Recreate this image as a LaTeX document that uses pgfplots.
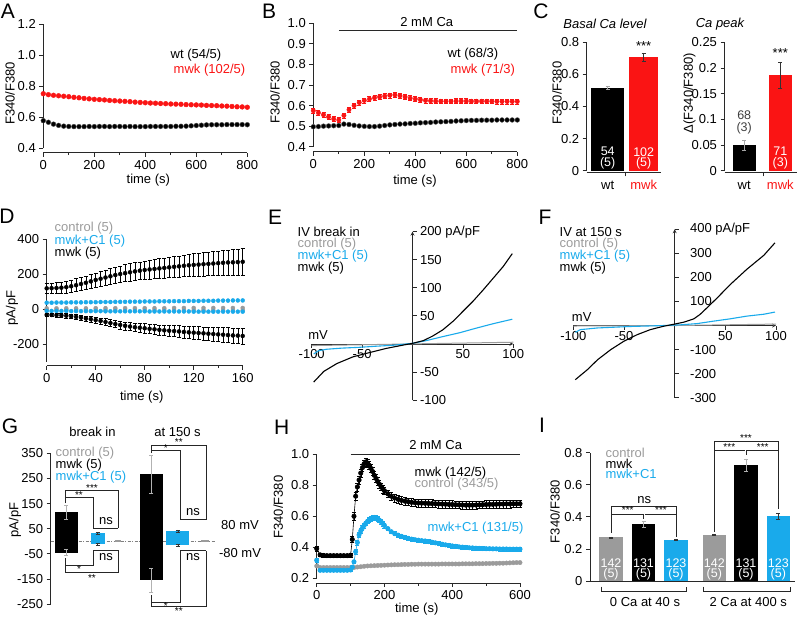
\documentclass[border=0pt]{standalone}
\usepackage{fontspec}
\setmainfont{Liberation Sans}
\usepackage{pgfplots}
\pgfplotsset{compat=1.18}
\definecolor{cblue}{RGB}{25,170,235}
\definecolor{cred}{RGB}{250,20,20}
\definecolor{cgray}{RGB}{155,155,155}
\definecolor{axc}{RGB}{40,40,40}
\newcommand\fs{\fontsize{13}{15}\selectfont}
\newcommand\fsb{\fontsize{12.5}{13}\selectfont}
\newcommand\fss{\fontsize{10}{12}\selectfont}
\newcommand\fsl{\fontsize{21}{24}\selectfont}
\pgfplotsset{
 base/.style={scale only axis, clip=false, anchor=south west,
   axis line style={line width=0.75pt, draw=axc},
   every inner x axis line/.append style={-},
   every inner y axis line/.append style={-},
   every outer x axis line/.append style={-},
   every outer y axis line/.append style={-},
   tick style={line width=0.75pt, axc},
   tick align=outside, major tick length=4pt, minor tick length=2.5pt,
   tick label style={font=\fs, text=black},
   /pgf/number format/assume math mode=true},
 igor/.style={base, axis x line*=bottom, axis y line*=left},
 ebar/.style={error bars/.cd, y dir=both, y explicit,
   error bar style={line width=0.5pt, #1},
   error mark options={rotate=90, mark size=2pt, line width=0.5pt, #1}},
}
\begin{document}
\begin{tikzpicture}[font=\fs]
\useasboundingbox (0pt,0pt) rectangle (800pt,-616pt);
% ---------------- A
\begin{axis}[igor, at={(43.3pt,-148.3pt)}, width=204pt, height=124pt,
 xmin=0,xmax=800,ymin=0.4,ymax=1.2,
 xtick={0,200,400,600,800}, xticklabels={0,200,400,600,800},
 minor xtick={100,300,500,700},
 ytick={0.4,0.6,0.8,1.0,1.2}, yticklabels={0.4,0.6,0.8,1.0,1.2},
 axis x line shift=4.4pt]
\addplot[only marks, mark=*, mark size=2.4pt, mark options={draw=black!70, fill=black, line width=0.4pt}] table {
0 0.578
20 0.568
40 0.556
60 0.548
80 0.543
100 0.541
120 0.540
140 0.540
160 0.540
180 0.541
200 0.540
220 0.541
240 0.541
260 0.540
280 0.541
300 0.541
320 0.540
340 0.541
360 0.540
380 0.540
400 0.540
420 0.541
440 0.541
460 0.541
480 0.541
500 0.541
520 0.542
540 0.542
560 0.543
580 0.545
600 0.547
620 0.549
640 0.551
660 0.552
680 0.552
700 0.552
720 0.553
740 0.553
760 0.553
780 0.553
800 0.552
};
\addplot[only marks, mark=*, mark size=2.4pt, mark options={draw=cred, fill=cred, line width=0.4pt}] table {
0 0.752
20 0.746
40 0.742
60 0.739
80 0.736
100 0.733
120 0.729
140 0.726
160 0.722
180 0.719
200 0.716
220 0.714
240 0.712
260 0.709
280 0.707
300 0.705
320 0.703
340 0.701
360 0.698
380 0.696
400 0.694
420 0.692
440 0.691
460 0.689
480 0.688
500 0.686
520 0.685
540 0.684
560 0.682
580 0.681
600 0.680
620 0.679
640 0.677
660 0.676
680 0.675
700 0.673
720 0.672
740 0.670
760 0.668
780 0.667
800 0.665
};
\end{axis}
% ---------------- B
\begin{axis}[igor, at={(313.3pt,-146.7pt)}, width=204pt, height=123.4pt,
 xmin=0,xmax=800,ymin=0.4,ymax=1.0,
 xtick={0,200,400,600,800}, xticklabels={0,200,400,600,800},
 minor xtick={100,300,500,700},
 ytick={0.4,0.5,0.6,0.7,0.8,0.9,1.0}, yticklabels={0.4,0.5,0.6,0.7,0.8,0.9,1.0},
 axis x line shift=5pt]
\draw[axc, line width=0.75pt] (axis cs:100,0.964) -- (axis cs:800,0.964);
\node[above=1pt] at (axis cs:445,0.964) {2 mM Ca};
\addplot[only marks, mark=*, mark size=2.4pt, mark options={draw=black!65, fill=black, line width=0.4pt}] table {
0 0.497
20 0.498
40 0.500
60 0.501
80 0.502
100 0.503
120 0.510
140 0.508
160 0.504
180 0.501
200 0.499
220 0.498
240 0.498
260 0.500
280 0.503
300 0.506
320 0.508
340 0.510
360 0.511
380 0.513
400 0.514
420 0.516
440 0.517
460 0.518
480 0.520
500 0.521
520 0.522
540 0.523
560 0.525
580 0.526
600 0.527
620 0.528
640 0.528
660 0.529
680 0.529
700 0.529
720 0.530
740 0.530
760 0.530
780 0.530
800 0.530
};
\addplot[only marks, mark=*, mark size=2.2pt, mark options={draw=cred, fill=cred}, ebar=cred] table[x=t,y=y,y error=e] {
t y e
0 0.575 0.012
20 0.565 0.012
40 0.555 0.012
60 0.545 0.012
80 0.535 0.012
100 0.530 0.012
120 0.552 0.012
140 0.580 0.012
160 0.600 0.012
180 0.615 0.012
200 0.625 0.012
220 0.632 0.012
240 0.638 0.012
260 0.642 0.012
280 0.646 0.012
300 0.650 0.012
320 0.652 0.012
340 0.648 0.012
360 0.642 0.012
380 0.636 0.012
400 0.632 0.012
420 0.628 0.012
440 0.625 0.012
460 0.623 0.012
480 0.622 0.012
500 0.621 0.012
520 0.621 0.012
540 0.621 0.012
560 0.622 0.012
580 0.622 0.012
600 0.622 0.012
620 0.621 0.012
640 0.621 0.012
660 0.621 0.012
680 0.621 0.012
700 0.621 0.012
720 0.620 0.012
740 0.620 0.012
760 0.620 0.012
780 0.620 0.012
800 0.620 0.012
};
\end{axis}
% ---------------- C left
\begin{axis}[igor, at={(586.7pt,-170.7pt)}, width=74.3pt, height=128.4pt,
 xmin=0,xmax=74.3,ymin=0,ymax=0.8,
 xtick={38.5}, xticklabels={},
 ytick={0,0.2,0.4,0.6,0.8}, yticklabels={0,0.2,0.4,0.6,0.8},
 axis x line shift=1.6pt]
\addplot[ybar, bar width=33, bar shift=0pt, fill=black, draw=none, ebar=gray!70] coordinates {(21,0.515) +- (0,0.01)};
\addplot[ybar, bar width=29, bar shift=0pt, fill=cred, draw=none, ebar=black!80] coordinates {(57,0.707) +- (0,0.025)};
\end{axis}
% ---------------- C right
\begin{axis}[igor, at={(724.5pt,-170.7pt)}, width=72.5pt, height=128.4pt,
 xmin=0,xmax=72.5,ymin=0,ymax=0.25,
 xtick={38.8}, xticklabels={},
 ytick={0,0.05,0.1,0.15,0.2,0.25}, yticklabels={0,0.05,0.1,0.15,0.2,0.25},
 axis x line shift=1.6pt]
\addplot[ybar, bar width=23, bar shift=0pt, fill=black, draw=none, ebar=gray!70] coordinates {(19.7,0.050) +- (0,0.01)};
\addplot[ybar, bar width=22.7, bar shift=0pt, fill=cred, draw=none, ebar=black!80] coordinates {(55.8,0.186) +- (0,0.026)};
\end{axis}
% ---------------- D
\begin{axis}[igor, at={(46.7pt,-361.5pt)}, width=196pt, height=122.5pt,
 xmin=0,xmax=160,ymin=-300,ymax=400,
 xtick={0,40,80,120,160}, xticklabels={0,40,80,120,160},
 minor xtick={20,60,100,140},
 ytick={-200,0,200,400}, yticklabels={-200,0,200,400},
 axis x line shift=4pt]
\addplot[only marks, mark=*, mark size=2pt, mark options={draw=cgray, fill=cgray}] table {
0 4
8 4
16 4
24 4
32 4
40 5
48 5
56 5
64 5
72 5
80 5
88 5
96 5
104 6
112 6
120 6
128 6
136 6
144 6
152 6
160 6
};
\addplot[only marks, mark=*, mark size=2pt, mark options={draw=cgray, fill=cgray}] table {
0 -5
8 -5
16 -5
24 -5
32 -5
40 -6
48 -6
56 -6
64 -6
72 -6
80 -6
88 -6
96 -6
104 -7
112 -7
120 -7
128 -7
136 -7
144 -7
152 -7
160 -7
};
\addplot[only marks, mark=*, mark size=2pt, mark options={draw=cblue, fill=cblue}] table {
0 36
4 36
8 37
12 37
16 37
20 38
24 38
28 38
32 39
36 39
40 39
44 40
48 40
52 40
56 41
60 41
64 41
68 42
72 42
76 42
80 43
84 43
88 43
92 44
96 44
100 44
104 45
108 45
112 45
116 46
120 46
124 46
128 47
132 47
136 47
140 48
144 48
148 48
152 49
156 49
160 49
};
\addplot[only marks, mark=*, mark size=2pt, mark options={draw=cblue, fill=cblue}] table {
0 -11
4 -11
8 -11
12 -11
16 -11
20 -12
24 -12
28 -12
32 -12
36 -12
40 -12
44 -12
48 -13
52 -13
56 -13
60 -13
64 -13
68 -13
72 -13
76 -13
80 -13
84 -14
88 -14
92 -14
96 -14
100 -14
104 -14
108 -14
112 -14
116 -14
120 -15
124 -15
128 -15
132 -15
136 -15
140 -15
144 -15
148 -15
152 -15
156 -15
160 -15
};
\addplot[only marks, mark=*, mark size=2pt, mark options={draw=black, fill=black}, ebar=black] table[x=t,y=y,y error=e] {
t y e
0 118 30
4 119 31
8 120 32
12 122 33
16 125 34
20 130 36
24 136 37
28 143 38
32 150 39
36 158 40
40 166 41
44 173 42
48 180 43
52 187 45
56 194 46
60 200 47
64 205 48
68 210 49
72 215 50
76 219 51
80 223 52
84 226 54
88 229 55
92 232 56
96 235 57
100 238 58
104 241 59
108 244 60
112 247 61
116 250 62
120 252 64
124 254 65
128 256 66
132 258 67
136 260 68
140 262 69
144 264 70
148 266 71
152 267 72
156 268 74
160 270 75
};
\addplot[only marks, mark=*, mark size=2pt, mark options={draw=black, fill=black}, ebar=black] table[x=t,y=y,y error=e] {
t y e
0 -34 8
4 -34 9
8 -35 10
12 -36 11
16 -38 12
20 -41 13
24 -45 14
28 -49 14
32 -54 15
36 -58 16
40 -63 17
44 -68 18
48 -74 19
52 -80 20
56 -86 21
60 -91 22
64 -96 23
68 -100 24
72 -104 25
76 -107 25
80 -110 26
84 -113 27
88 -116 28
92 -119 29
96 -122 30
100 -124 31
104 -126 32
108 -128 33
112 -131 34
116 -133 35
120 -135 36
124 -137 36
128 -139 37
132 -141 38
136 -143 39
140 -145 40
144 -147 41
148 -149 42
152 -151 43
156 -152 44
160 -154 45
};
\end{axis}
% ---------------- E
\begin{axis}[base, at={(311.7pt,-400pt)}, width=201.6pt, height=168.3pt,
 axis x line=middle, axis y line=middle,
 xmin=-100,xmax=100,ymin=-100,ymax=200,
 tick align=center, xtick style={yshift=-2pt}, ytick style={xshift=2pt},
 xtick={-100,-50,50,100}, xticklabels={-100,-50,50,100},
 ytick={-100,-50,50,100,150,200}, yticklabels={-100,-50,50,100,150,200 pA/pF},
 yticklabel style={anchor=west, xshift=6pt}]
\addplot[cgray, line width=1pt] coordinates {(-100,-3) (-50,-1.5) (0,0) (50,1.5) (100,3)};
\addplot[cblue, line width=1.1pt] coordinates {(-98,-18) (-93,-12) (-85,-9.5) (-70,-7.5) (-52,-6) (-35,-4) (-19,-2.4) (0,1) (14,6) (30,13) (47,20) (63,28) (80,36) (99,44)};
\addplot[black, line width=1.1pt] coordinates {(-98,-68) (-88,-49) (-75,-35) (-59,-23) (-46,-17) (-26,-8) (-9,-2) (0,1) (11,6) (20,14) (30,25) (40,40) (50,58) (60,76) (70,96) (80,117) (90,138) (99,161)};
\end{axis}
% ---------------- F
\begin{axis}[base, at={(573.3pt,-397.7pt)}, width=202.7pt, height=168.4pt,
 axis x line=middle, axis y line=middle,
 xmin=-100,xmax=100,ymin=-300,ymax=400,
 tick align=center, xtick style={yshift=-2pt}, ytick style={xshift=2pt},
 xtick={-100,-50,50,100}, xticklabels={-100,-50,50,100},
 ytick={-300,-200,-100,100,200,300,400}, yticklabels={-300,-200,-100,100,200,300,400 pA/pF},
 yticklabel style={anchor=west, xshift=14pt}]
\addplot[cgray, line width=1pt] coordinates {(-100,-2) (-50,-1) (0,0) (50,3) (100,6)};
\addplot[cblue, line width=1.1pt] coordinates {(-98,-28) (-93,-17) (-76,-10) (-60,-7) (-44,-4) (-11,0) (6,3) (22,8) (38,18) (55,28) (71,39) (88,47) (99,56)};
\addplot[black, line width=1.1pt] coordinates {(-98,-225) (-86,-183) (-76,-142) (-63,-100) (-50,-65) (-37,-38) (-24,-17) (-11,-3) (0,6) (9,14) (19,28) (25,46) (32,74) (42,115) (55,171) (71,233) (88,292) (99,344)};
\end{axis}
% ---------------- G
\begin{axis}[base, axis x line=none, axis y line*=left, at={(50.7pt,-604pt)}, width=199.3pt, height=150.7pt,
 xmin=0,xmax=200,ymin=-250,ymax=350,
 ytick={-250,-150,-50,50,150,250,350}, yticklabels={-250,-150,-50,50,150,250,350}]
\draw[gray, line width=0.6pt, dash pattern=on 3pt off 1.5pt on 1pt off 1.5pt] (axis cs:0,0) -- (axis cs:166,0);
\addplot[ybar, bar width=22.7, bar shift=0pt, fill=black, draw=none, ebar=gray!60] coordinates {(15.6,115) +- (0,28)};
\addplot[ybar, bar width=22.7, bar shift=0pt, fill=black, draw=none, ebar=gray!60] coordinates {(15.6,-45) +- (0,12)};
\addplot[ybar, bar width=14.3, bar shift=0pt, fill=cblue, draw=none, ebar=black!80] coordinates {(47.1,31) +- (0,4)};
\addplot[ybar, bar width=14.3, bar shift=0pt, fill=cblue, draw=none, ebar=black!80] coordinates {(47.1,-12) +- (0,4)};
\addplot[ybar, bar width=6, bar shift=0pt, fill=cgray, draw=none] coordinates {(67.6,3)};
\addplot[ybar, bar width=6, bar shift=0pt, fill=cgray, draw=none] coordinates {(67.6,-3)};
\addplot[ybar, bar width=23.3, bar shift=0pt, fill=black, draw=none, ebar=gray!60] coordinates {(101,266) +- (0,76)};
\addplot[ybar, bar width=23.3, bar shift=0pt, fill=black, draw=none, ebar=gray!60] coordinates {(101,-155) +- (0,48)};
\addplot[ybar, bar width=23.3, bar shift=0pt, fill=cblue, draw=none, ebar=black!80] coordinates {(127.6,41) +- (0,4)};
\addplot[ybar, bar width=23.3, bar shift=0pt, fill=cblue, draw=none, ebar=black!80] coordinates {(127.6,-16) +- (0,4)};
\addplot[ybar, bar width=8, bar shift=0pt, fill=cgray, draw=none] coordinates {(154.8,3)};
\addplot[ybar, bar width=8, bar shift=0pt, fill=cgray, draw=none] coordinates {(154.8,-3)};
\end{axis}
% ---------------- H
\begin{axis}[igor, at={(316.7pt,-578pt)}, width=203.3pt, height=123.5pt,
 xmin=0,xmax=600,ymin=0.2,ymax=1.0,
 xtick={0,200,400,600}, xticklabels={0,200,400,600},
 minor xtick={100,300,500},
 ytick={0.2,0.4,0.6,0.8,1.0}, yticklabels={0.2,0.4,0.6,0.8,1.0},
 axis x line shift=5pt]
\draw[axc, line width=0.75pt] (axis cs:100,1.0) -- (axis cs:600,1.0);
\node[above=1pt] at (axis cs:351,1.0) {2 mM Ca};
\addplot[only marks, mark=*, mark size=2.2pt, mark options={draw=cgray, fill=cgray}] table {
0 0.278
10 0.268
20 0.268
30 0.268
40 0.268
50 0.268
60 0.268
70 0.268
80 0.268
90 0.268
100 0.268
110 0.268
120 0.271
130 0.273
140 0.276
150 0.278
160 0.279
170 0.280
180 0.281
190 0.282
200 0.283
210 0.284
220 0.285
230 0.286
240 0.286
250 0.287
260 0.288
270 0.288
280 0.289
290 0.289
300 0.290
310 0.290
320 0.290
330 0.290
340 0.290
350 0.290
360 0.290
370 0.291
380 0.291
390 0.291
400 0.291
410 0.291
420 0.291
430 0.292
440 0.292
450 0.292
460 0.292
470 0.293
480 0.293
490 0.293
500 0.294
510 0.294
520 0.295
530 0.295
540 0.296
550 0.296
560 0.297
570 0.298
580 0.299
590 0.300
600 0.300
};
\addplot[cblue, line width=0.6pt, mark=*, mark size=2.2pt, mark options={draw=cblue, fill=cblue}, ebar=cblue] table[x=t,y=y,y error=e] {
t y e
0 0.315 0.01
10 0.250 0.008
20 0.250 0.008
30 0.250 0.008
40 0.250 0.008
50 0.250 0.008
60 0.250 0.008
70 0.250 0.008
80 0.250 0.008
90 0.250 0.008
100 0.252 0.008
105 0.270 0.01
110 0.305 0.012
115 0.370 0.015
120 0.430 0.015
125 0.480 0.015
130 0.505 0.015
135 0.525 0.015
140 0.540 0.015
145 0.555 0.015
150 0.567 0.015
155 0.577 0.015
160 0.585 0.015
165 0.590 0.015
170 0.592 0.015
175 0.590 0.015
180 0.585 0.015
185 0.575 0.015
190 0.565 0.015
195 0.553 0.015
200 0.540 0.015
210 0.520 0.012
220 0.500 0.012
230 0.488 0.012
240 0.478 0.012
250 0.470 0.012
260 0.463 0.012
270 0.457 0.012
280 0.452 0.012
290 0.448 0.012
300 0.445 0.012
310 0.442 0.012
320 0.440 0.012
330 0.436 0.012
340 0.432 0.012
350 0.428 0.012
360 0.423 0.012
370 0.419 0.012
380 0.415 0.012
390 0.411 0.012
400 0.408 0.012
410 0.405 0.012
420 0.402 0.012
430 0.400 0.012
440 0.398 0.012
450 0.396 0.012
460 0.395 0.012
470 0.393 0.012
480 0.392 0.012
490 0.391 0.012
500 0.390 0.012
510 0.390 0.012
520 0.389 0.012
530 0.389 0.012
540 0.388 0.012
550 0.388 0.012
560 0.388 0.012
570 0.387 0.012
580 0.387 0.012
590 0.387 0.012
600 0.387 0.012
};
\addplot[black, line width=0.6pt, mark=*, mark size=2.2pt, mark options={draw=black, fill=black}, ebar=black] table[x=t,y=y,y error=e] {
t y e
0 0.390 0.015
10 0.350 0.012
20 0.346 0.012
30 0.345 0.012
40 0.345 0.012
50 0.345 0.012
60 0.345 0.012
70 0.345 0.012
80 0.345 0.012
90 0.345 0.012
100 0.348 0.012
105 0.450 0.02
110 0.600 0.025
115 0.730 0.025
120 0.790 0.025
125 0.835 0.025
130 0.880 0.025
135 0.915 0.025
140 0.940 0.025
145 0.952 0.025
150 0.945 0.025
155 0.930 0.025
160 0.910 0.025
165 0.890 0.025
170 0.865 0.025
175 0.845 0.025
180 0.825 0.025
185 0.808 0.025
190 0.792 0.025
195 0.777 0.025
200 0.765 0.025
210 0.745 0.025
220 0.730 0.025
230 0.718 0.025
240 0.710 0.025
250 0.703 0.025
260 0.698 0.025
270 0.694 0.025
280 0.690 0.025
290 0.688 0.025
300 0.686 0.025
310 0.685 0.025
320 0.684 0.025
330 0.683 0.025
340 0.682 0.025
350 0.681 0.025
360 0.680 0.025
370 0.679 0.025
380 0.678 0.025
390 0.677 0.025
400 0.676 0.025
410 0.675 0.025
420 0.674 0.025
430 0.673 0.025
440 0.672 0.025
450 0.672 0.025
460 0.672 0.025
470 0.673 0.025
480 0.674 0.025
490 0.675 0.025
500 0.676 0.025
510 0.677 0.025
520 0.677 0.025
530 0.678 0.025
540 0.679 0.025
550 0.679 0.025
560 0.680 0.025
570 0.680 0.025
580 0.681 0.025
590 0.681 0.025
600 0.681 0.025
};
\end{axis}
% ---------------- I
\begin{axis}[igor, at={(590pt,-581pt)}, width=205pt, height=128.3pt,
 xmin=0,xmax=205,ymin=0,ymax=0.8,
 xtick=\empty,
 ytick={0,0.2,0.4,0.6,0.8}, yticklabels={0,0.2,0.4,0.6,0.8}]
\addplot[ybar, bar width=23.3, bar shift=0pt, fill=cgray, draw=none, ebar=black!80] coordinates {(21,0.272) +- (0,0.003)};
\addplot[ybar, bar width=23.3, bar shift=0pt, fill=black, draw=none, ebar=gray!60] coordinates {(53.5,0.353) +- (0,0.018)};
\addplot[ybar, bar width=23.3, bar shift=0pt, fill=cblue, draw=none, ebar=black!80] coordinates {(86,0.257) +- (0,0.004)};
\addplot[ybar, bar width=23.3, bar shift=0pt, fill=cgray, draw=none, ebar=black!80] coordinates {(124.3,0.287) +- (0,0.003)};
\addplot[ybar, bar width=23.3, bar shift=0pt, fill=black, draw=none, ebar=gray!60] coordinates {(156,0.722) +- (0,0.04)};
\addplot[ybar, bar width=23.3, bar shift=0pt, fill=cblue, draw=none, ebar=black!80] coordinates {(188.3,0.405) +- (0,0.02)};
\end{axis}
% ================= annotations (1 unit = 1 px)
\begin{scope}[x=1pt,y=1pt, every node/.append style={inner sep=0.5pt}]
\node[font=\fsl] at (8,-11) {A};
\node[rotate=90] at (10,-93.3) {F340/F380};
\node at (148.3,-180) {time (s)};
\node[anchor=west] at (170,-55) {wt (54/5)};
\node[anchor=west, text=cred] at (173,-70) {mwk (102/5)};
\node[font=\fsl] at (269,-11) {B};
\node[rotate=90] at (275,-92.5) {F340/F380};
\node at (415,-181) {time (s)};
\node[anchor=west] at (447,-54) {wt (68/3)};
\node[anchor=west, text=cred] at (450,-70) {mwk (71/3)};
\node[font=\fsl] at (541,-11) {C};
\node[font=\fs\itshape] at (605,-24) {Basal Ca level};
\node[rotate=90] at (557,-93) {F340/F380};
\node at (643.7,-46) {***};
\begin{scope}[every node/.style={font=\fsb, inner sep=0pt}]
\node[text=white] at (607.7,-151.7) {54};
\node[text=white] at (607.7,-163.3) {(5)};
\node[text=white] at (643.7,-151.7) {102};
\node[text=white] at (643.7,-163.3) {(5)};
\node[text=black!75] at (744.2,-115) {68};
\node[text=black!75] at (744.2,-128.3) {(3)};
\node[text=white] at (780.3,-150.7) {71};
\node[text=white] at (780.3,-163) {(3)};
\foreach \xx/\nn in {611/142,643.5/131,676/123,714.3/142,746/131,778.3/123}{
  \node[text=white] at (\xx,-562.7) {\nn};
  \node[text=white] at (\xx,-574.3) {(5)};
}
\end{scope}
\node at (607.7,-185) {wt};
\node[text=cred] at (643.7,-185) {mwk};
\node[font=\fs\itshape] at (720,-24) {Ca peak};
\node[rotate=90] at (689.5,-93.3) {Δ(F340/F380)};
\node at (780.3,-53) {***};
\node at (744.2,-185) {wt};
\node[text=cred] at (780.3,-185) {mwk};
\node[font=\fsl] at (7,-216) {D};
\node[rotate=90] at (12,-308) {pA/pF};
\node at (141.7,-396.7) {time (s)};
\node[anchor=west, text=cgray] at (54,-228) {control (5)};
\node[anchor=west, text=cblue] at (54,-240.7) {mwk+C1 (5)};
\node[anchor=west] at (54,-252.7) {mwk (5)};
\node[font=\fsl] at (275,-217.5) {E};
\node at (318,-335) {mV};
\node[anchor=west] at (297,-231.7) {IV break in};
\node[anchor=west, text=cgray] at (297,-243.7) {control (5)};
\node[anchor=west, text=cblue] at (297,-256.2) {mwk+C1 (5)};
\node[anchor=west] at (297,-268.3) {mwk (5)};
\node[font=\fsl] at (545,-217) {F};
\node at (581.7,-317.3) {mV};
\node[anchor=west] at (559,-231.7) {IV at 150 s};
\node[anchor=west, text=cgray] at (559,-243.7) {control (5)};
\node[anchor=west, text=cblue] at (559,-256.2) {mwk+C1 (5)};
\node[anchor=west] at (559,-268.3) {mwk (5)};
\node[font=\fsl] at (10,-426) {G};
\begin{scope}[line width=0.6pt, black!85]
\draw (65.7,-503) -- (65.7,-490.7) -- (118.3,-490.7) -- (118.3,-528.3);
\draw (65.7,-503) -- (65.7,-497.3) -- (93.3,-497.3) -- (93.3,-528.3) -- (118.3,-528.3);
\draw (93.3,-550) -- (118.3,-550);
\draw (65.7,-558) -- (65.7,-572.7) -- (118.3,-572.7) -- (118.3,-550);
\draw (65.7,-565) -- (93.3,-565) -- (93.3,-550);
\draw (151.7,-453) -- (151.7,-445) -- (206,-445) -- (206,-519.3) -- (180,-519.3);
\draw (151.7,-450.7) -- (180,-450.7) -- (180,-519.3);
\draw (180,-550.7) -- (206,-550.7);
\draw (151.7,-595) -- (151.7,-606) -- (206,-606) -- (206,-550.7);
\draw (151.7,-602.7) -- (180,-602.7) -- (180,-550.7);
\end{scope}
\node[font=\fss] at (92,-488) {***};
\node[font=\fss] at (79,-495) {**};
\node at (106,-521) {ns};
\node at (106,-557) {ns};
\node[font=\fss] at (79,-569) {*};
\node[font=\fss] at (92,-578) {**};
\node[font=\fss] at (178.8,-442) {**};
\node[font=\fss] at (165.8,-448) {*};
\node at (193,-512.5) {ns};
\node at (193,-557) {ns};
\node[font=\fss] at (165.8,-606) {*};
\node[font=\fss] at (178.8,-611.5) {**};
\node at (240,-525) {80 mV};
\node at (240,-553) {-80 mV};
\node at (92.5,-431.7) {break in};
\node at (177.5,-431.7) {at 150 s};
\node[anchor=west, text=cgray] at (55,-453.3) {control (5)};
\node[anchor=west] at (55,-465) {mwk (5)};
\node[anchor=west, text=cblue] at (55,-476.7) {mwk+C1 (5)};
\node[rotate=90] at (15,-520) {pA/pF};
\node[font=\fsl] at (281.7,-427.5) {H};
\node[rotate=90] at (278.3,-507) {F340/F380};
\node at (416.7,-609.3) {time (s)};
\node[anchor=west] at (414,-472.7) {mwk (142/5)};
\node[anchor=west, text=cgray] at (414,-484.3) {control (343/5)};
\node[anchor=west, text=cblue] at (427,-528.3) {mwk+C1 (131/5)};
\node[font=\fsl] at (542,-425) {I};
\begin{scope}[line width=0.6pt, black!85]
\draw (611.7,-532.7) -- (611.7,-506.7) -- (676,-506.7) -- (676,-536.7);
\draw (611.7,-514.3) -- (642.5,-514.3);
\draw (644.5,-514.3) -- (676,-514.3);
\draw (643.5,-514.3) -- (643.5,-519);
\draw (714,-531.7) -- (714,-441.7) -- (778.3,-441.7) -- (778.3,-509);
\draw (714,-450) -- (745,-450);
\draw (747,-450) -- (778.3,-450);
\draw (746,-450) -- (746,-455);
\draw (601.7,-586.7) -- (601.7,-591.7) -- (686.7,-591.7) -- (686.7,-586.7);
\draw (703.3,-586.7) -- (703.3,-591.7) -- (790,-591.7) -- (790,-586.7);
\end{scope}
\node at (644.3,-500) {ns};
\node[font=\fss] at (627.7,-510.5) {***};
\node[font=\fss] at (661,-510.5) {***};
\node[font=\fss] at (746,-438.5) {***};
\node[font=\fss] at (729.3,-447) {***};
\node[font=\fss] at (762.7,-447) {***};
\node at (645,-602.3) {0 Ca at 40 s};
\node at (748.3,-602.3) {2 Ca at 400 s};
\node[anchor=west, text=cgray] at (605,-452.7) {control};
\node[anchor=west] at (605,-463.3) {mwk};
\node[anchor=west, text=cblue] at (605,-474) {mwk+C1};
\node[rotate=90] at (555,-511.7) {F340/F380};
\end{scope}
\end{tikzpicture}
\end{document}
